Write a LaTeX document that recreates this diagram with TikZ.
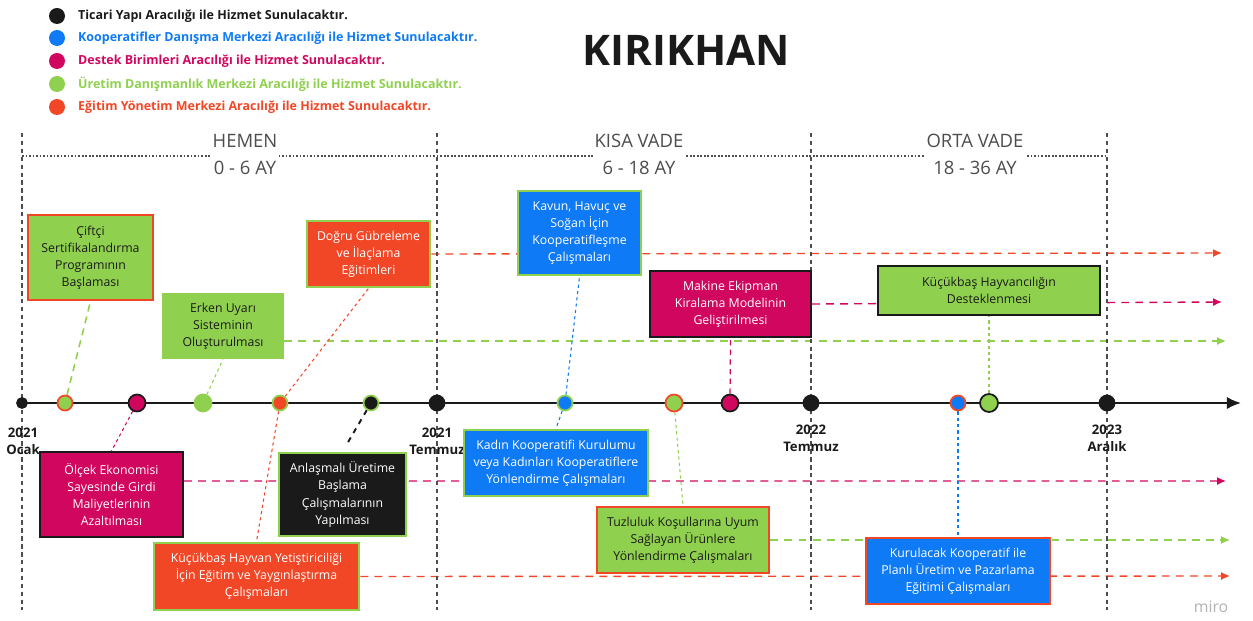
\documentclass[tikz,border=0pt]{standalone}
\usepackage{fontspec}
\setmainfont{Open Sans}
\usetikzlibrary{arrows.meta,backgrounds}

\definecolor{mblack}{HTML}{1A1A1A}
\definecolor{mblue}{HTML}{0F7AF5}
\definecolor{mmagenta}{HTML}{D1075F}
\definecolor{mgreen}{HTML}{8FD14F}
\definecolor{morange}{HTML}{F24726}
\definecolor{mgray}{HTML}{4D4D4D}

\begin{document}
\begin{tikzpicture}[>={Latex[length=5pt,width=4.5pt]},
    box/.style={draw, line width=1.6pt, align=center, inner sep=2pt,
        font=\fontsize{7}{9.7}\selectfont},
    darkbox/.style={box, line width=1.1pt, draw=mblack},
    dot/.style={draw, circle, line width=1pt, inner sep=0pt, minimum size=0.3cm},
    legdot/.style={circle, inner sep=0pt, minimum size=0.32cm},
    leg/.style={anchor=west, font=\fontsize{7.1}{8.5}\selectfont\bfseries},
    phase/.style={fill=white, align=center, text=mgray, inner sep=1pt,
        font=\fontsize{10.5}{15.4}\selectfont},
    date/.style={align=center, text=mblack, font=\fontsize{7.5}{9.5}\selectfont\bfseries},
    link/.style={line width=0.6pt, dash pattern=on 1.8pt off 1.8pt},
    cont/.style={->, line width=0.8pt, dash pattern=on 4.5pt off 3.5pt},
    period/.style={mgray, line width=0.6pt, dash pattern=on 2.5pt off 2pt}]
    \useasboundingbox (0,0) rectangle (25.06,-12.42);

    % Legend
    \node[legdot, fill=mblack] (l1) at (1.14,-0.32) {};
    \node[legdot, fill=mblue] (l2) at (1.14,-0.76) {};
    \node[legdot, fill=mmagenta] (l3) at (1.14,-1.22) {};
    \node[legdot, fill=mgreen] (l4) at (1.14,-1.68) {};
    \node[legdot, fill=morange] (l5) at (1.14,-2.14) {};
    \node[leg, text=mblack] (l1t) at (1.44,-0.32) {Ticari Yapı Aracılığı ile Hizmet Sunulacaktır.};
    \node[leg, text=mblue] (l2t) at (1.44,-0.76) {Kooperatifler Danışma Merkezi Aracılığı ile Hizmet Sunulacaktır.};
    \node[leg, text=mmagenta] (l3t) at (1.44,-1.22) {Destek Birimleri Aracılığı ile Hizmet Sunulacaktır.};
    \node[leg, text=mgreen] (l4t) at (1.44,-1.68) {Üretim Danışmanlık Merkezi Aracılığı ile Hizmet Sunulacaktır.};
    \node[leg, text=morange] (l5t) at (1.44,-2.14) {Eğitim Yönetim Merkezi Aracılığı ile Hizmet Sunulacaktır.};

    \node[font=\fontsize{24}{28}\selectfont\bfseries, text=mblack] (title) at (13.72,-1.0) {KIRIKHAN};

    % Periods
    \draw[period] (0.44,-2.66) -- (0.44,-12.2);
    \draw[period] (8.74,-2.66) -- (8.74,-12.2);
    \draw[period] (16.22,-2.66) -- (16.22,-12.2);
    \draw[period] (22.14,-2.66) -- (22.14,-12.2);
    \draw[mgray, line width=0.6pt, dash pattern=on 1pt off 1pt] (0.44,-3.12) -- (22.14,-3.12);
    \node[phase] (hemen) at (4.90,-3.09) {HEMEN\\0 - 6 AY};
    \node[phase] (kisa) at (12.78,-3.09) {KISA VADE\\6 - 18 AY};
    \node[phase] (orta) at (19.50,-3.09) {ORTA VADE\\18 - 36 AY};

    % Time axis
    \coordinate (axisstart) at (0.44,-8.06);
    \coordinate (axisend) at (24.82,-8.06);
    \draw[mblack, line width=1.3pt, -{Latex[length=8pt,width=7pt]}] (axisstart) -- (axisend);

    % Markers
    \node[dot, fill=mblack, draw=mblack, minimum size=0.2cm] (t0) at (0.44,-8.06) {};
    \node[dot, fill=mblack, draw=mblack] (t1) at (8.74,-8.06) {};
    \node[dot, fill=mblack, draw=mblack] (t2) at (16.22,-8.06) {};
    \node[dot, fill=mblack, draw=mblack] (t3) at (22.14,-8.06) {};
    \node[dot, fill=mgreen, draw=morange] (m1) at (1.30,-8.06) {};
    \node[dot, fill=mmagenta, draw=mblack, minimum size=0.34cm] (m2) at (2.74,-8.06) {};
    \node[dot, fill=mgreen, draw=mgreen, minimum size=0.34cm] (m3) at (4.06,-8.06) {};
    \node[dot, fill=morange, draw=mgreen] (m4) at (5.60,-8.06) {};
    \node[dot, fill=mblack, draw=mgreen] (m5) at (7.42,-8.06) {};
    \node[dot, fill=mblue, draw=mgreen] (m6) at (11.30,-8.06) {};
    \node[dot, fill=mgreen, draw=morange, minimum size=0.34cm] (m7) at (13.48,-8.06) {};
    \node[dot, fill=mmagenta, draw=mblack, minimum size=0.34cm] (m8) at (14.60,-8.06) {};
    \node[dot, fill=mblue, draw=morange] (m9) at (19.16,-8.06) {};
    \node[dot, fill=mgreen, draw=mblack, minimum size=0.36cm] (m10) at (19.78,-8.06) {};

    % Dates
    \node[date] (d0) at (0.46,-8.82) {2021\\Ocak};
    \node[date] (d1) at (8.74,-8.82) {2021\\Temmuz};
    \node[date] (d2) at (16.22,-8.77) {2022\\Temmuz};
    \node[date] (d3) at (22.14,-8.77) {2023\\Aralık};

    % Activities
    \node[box, fill=mgreen, draw=morange, text=mblack, minimum width=2.5cm, minimum height=1.7cm] (ciftci) at (1.81,-5.15) {Çiftçi\\Sertifikalandırma\\Programının\\Başlaması};
    \node[box, fill=mgreen, draw=mgreen, text=mblack, minimum width=2.4cm, minimum height=1.28cm] (erken) at (4.46,-6.52) {Erken Uyarı\\Sisteminin\\Oluşturulması};
    \node[box, fill=morange, draw=mgreen, text=white, minimum width=2.46cm, minimum height=1.32cm] (gubre) at (7.37,-5.08) {Doğru Gübreleme\\ve İlaçlama\\Eğitimleri};
    \node[box, fill=mblue, draw=mgreen, text=white, minimum width=2.46cm, minimum height=1.68cm] (kavun) at (11.59,-4.66) {Kavun, Havuç ve\\Soğan İçin\\Kooperatifleşme\\Çalışmaları};
    \node[darkbox, fill=mmagenta, text=white, minimum width=3.22cm, minimum height=1.32cm] (makine) at (14.61,-6.08) {Makine Ekipman\\Kiralama Modelinin\\Geliştirilmesi};
    \node[darkbox, fill=mgreen, text=mblack, minimum width=4.44cm, minimum height=0.98cm] (kucukbas) at (19.78,-5.81) {Küçükbaş Hayvancılığın\\Desteklenmesi};
    \node[darkbox, fill=mmagenta, text=white, minimum width=2.86cm, minimum height=1.7cm] (olcek) at (2.23,-9.89) {Ölçek Ekonomisi\\Sayesinde Girdi\\Maliyetlerinin\\Azaltılması};
    \node[box, fill=mblack, draw=mgreen, text=white, minimum width=2.54cm, minimum height=1.66cm] (anlasma) at (6.85,-9.89) {Anlaşmalı Üretime\\Başlama\\Çalışmalarının\\Yapılması};
    \node[box, fill=morange, draw=mgreen, text=white, minimum width=4.1cm, minimum height=1.34cm] (yetistir) at (5.13,-11.53) {Küçükbaş Hayvan Yetiştiriciliği\\İçin Eğitim ve Yaygınlaştırma\\Çalışmaları};
    \node[box, fill=mblue, draw=mgreen, text=white, minimum width=3.68cm, minimum height=1.32cm] (kadin) at (11.12,-9.26) {Kadın Kooperatifi Kurulumu\\veya Kadınları Kooperatiflere\\Yönlendirme Çalışmaları};
    \node[box, fill=mgreen, draw=morange, text=mblack, minimum width=3.44cm, minimum height=1.32cm] (tuzluluk) at (13.66,-10.80) {Tuzluluk Koşullarına Uyum\\Sağlayan Ürünlere\\Yönlendirme Çalışmaları};
    \node[box, fill=mblue, draw=morange, text=white, minimum width=3.68cm, minimum height=1.32cm] (kurulacak) at (19.16,-11.42) {Kurulacak Kooperatif ile\\Planlı Üretim ve Pazarlama\\Eğitimi Çalışmaları};

    \node[text=black!30, font=\fontsize{9}{10}\selectfont] (miro) at (24.22,-12.14) {miro};

    % Ends of the continuing lines
    \coordinate (e1) at (24.44,-5.06);
    \coordinate (e2) at (24.44,-6.04);
    \coordinate (e3) at (24.52,-6.82);
    \coordinate (e4) at (24.52,-9.62);
    \coordinate (e5) at (24.60,-10.80);
    \coordinate (e6) at (24.60,-11.52);

    \begin{scope}[on background layer]
        % Continuing lines
        \draw[cont, morange] (gubre.east) -- (e1);
        \draw[cont, mmagenta] (makine.east) -- (e2);
        \draw[cont, mgreen] ([yshift=-0.3cm]erken.east) -- (e3);
        \draw[cont, mmagenta] ([yshift=0.27cm]olcek.east) -- (e4);
        \draw[cont, mgreen] (tuzluluk.east) -- (e5);
        \draw[cont, morange] (yetistir.east) -- (e6);

        % Links from markers to activities
        \draw[mgreen, line width=0.9pt, dash pattern=on 4pt off 3pt] (m1) -- (ciftci.south);
        \draw[link, mmagenta] (m2) -- (olcek.north);
        \draw[link, mgreen] (m3) -- (erken.south);
        \draw[link, morange] (m4) -- (gubre.south);
        \draw[link, morange] (m4) -- (yetistir.north);
        \draw[mblack, line width=1.1pt, dash pattern=on 3pt off 3pt, shorten >=4pt] (m5) -- (anlasma.north);
        \draw[link, mblue] (m6) -- (kavun.south);
        \draw[link, mblue] (m6) -- (kadin.north);
        \draw[link, mgreen] (m7) -- (tuzluluk.north);
        \draw[mmagenta, line width=0.7pt, dash pattern=on 3pt off 2.5pt] (m8) -- (makine.south);
        \draw[link, mblue] (m9) -- (kurulacak.north);
        \draw[link, mgreen] (m10) -- (kucukbas.south);
    \end{scope}
\end{tikzpicture}
\end{document}
